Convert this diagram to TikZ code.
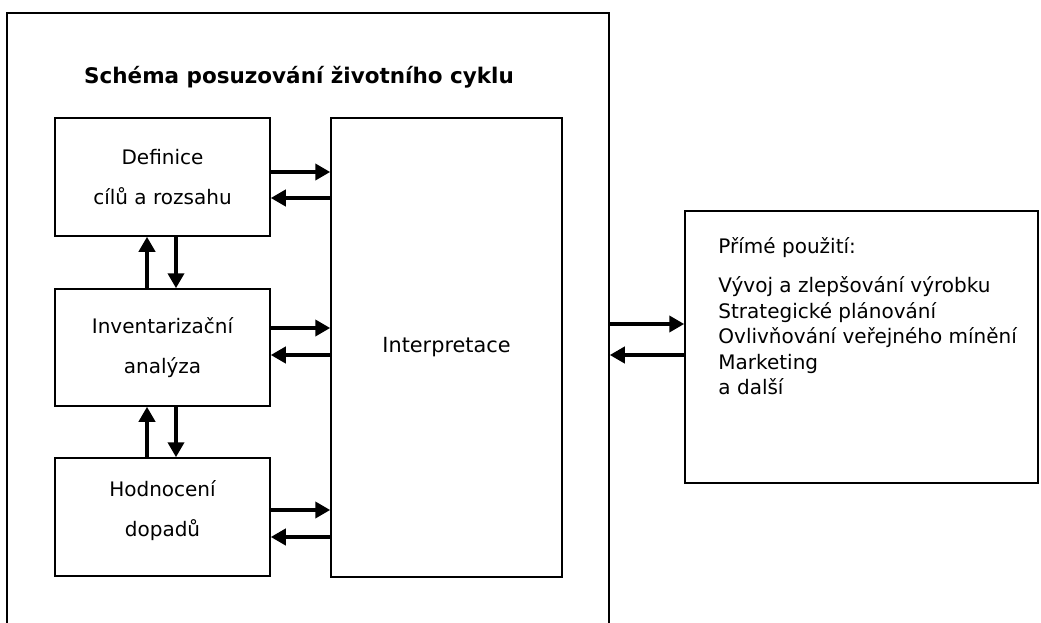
\documentclass[tikz,border=0pt]{standalone}
\usepackage{fontspec}
\setmainfont{DejaVu Sans}
\usetikzlibrary{arrows.meta}

\tikzset{
  box/.style={draw,line width=1.5pt,inner sep=0pt},
  stage/.style={box,minimum width=215pt,minimum height=118pt,align=center,font=\fontsize{20}{40}\selectfont},
  flow/.style={line width=4pt,-{Triangle[length=15pt,width=16pt]}},
}

\begin{document}
\begin{tikzpicture}[x=1pt,y=-1pt]
          \clip (0,0) rectangle (1041,623);
          \node[box,minimum width=602pt,minimum height=630pt] (frame) at (308,328) {};
          \node[font=\bfseries\fontsize{21.5}{25}\selectfont] (title) at (299,77) {Schéma posuzování životního cyklu};

          \node[stage] (def) at (162.5,177) {Definice\\cílů a rozsahu};
          \node[stage,minimum height=117pt] (inv) at (162.5,347.5) {Inventarizační\\analýza};
          \node[stage] (hod) at (162.5,517) {Hodnocení\\dopadů\\[-22pt]};
          \node[box,minimum width=231pt,minimum height=459pt,font=\fontsize{20.8}{24}\selectfont] (interp) at (446.5,347.5) {Interpretace};

          \node[box,minimum width=353pt,minimum height=272pt] (use) at (861.5,347) {};
          \node[anchor=north west,inner sep=0pt,align=left,font=\fontsize{20}{25.5}\selectfont] (usetext) at ([xshift=34pt,yshift=-27pt]use.north west)
            {Přímé použití:\\[14pt]Vývoj a zlepšování výrobku\\Strategické plánování\\Ovlivňování veřejného mínění\\Marketing\\a další};

          % arrows between the stages
          \draw[flow] ([xshift=-15.5pt]inv.north) -- ([xshift=-15.5pt]def.south);
          \draw[flow] ([xshift=13.5pt]def.south) -- ([xshift=13.5pt]inv.north);
          \draw[flow] ([xshift=-15.5pt]hod.north) -- ([xshift=-15.5pt]inv.south);
          \draw[flow] ([xshift=13.5pt]inv.south) -- ([xshift=13.5pt]hod.north);

          % arrows to and from the interpretation
          \coordinate (d1) at ([yshift=5pt]def.east);
          \coordinate (d2) at ([yshift=-21pt]def.east);
          \coordinate (i1) at ([yshift=19.5pt]inv.east);
          \coordinate (i2) at ([yshift=-7.5pt]inv.east);
          \coordinate (h1) at ([yshift=7pt]hod.east);
          \coordinate (h2) at ([yshift=-20pt]hod.east);
          \draw[flow] (d1) -- (interp.west |- d1);
          \draw[flow] (interp.west |- d2) -- (d2);
          \draw[flow] (i1) -- (interp.west |- i1);
          \draw[flow] (interp.west |- i2) -- (i2);
          \draw[flow] (h1) -- (interp.west |- h1);
          \draw[flow] (interp.west |- h2) -- (h2);

          % arrows to and from the direct use
          \coordinate (u1) at ([yshift=23pt]use.west);
          \coordinate (u2) at ([yshift=-8pt]use.west);
          \draw[flow] (frame.east |- u1) -- (u1);
          \draw[flow] (u2) -- (frame.east |- u2);
\end{tikzpicture}
\end{document}
